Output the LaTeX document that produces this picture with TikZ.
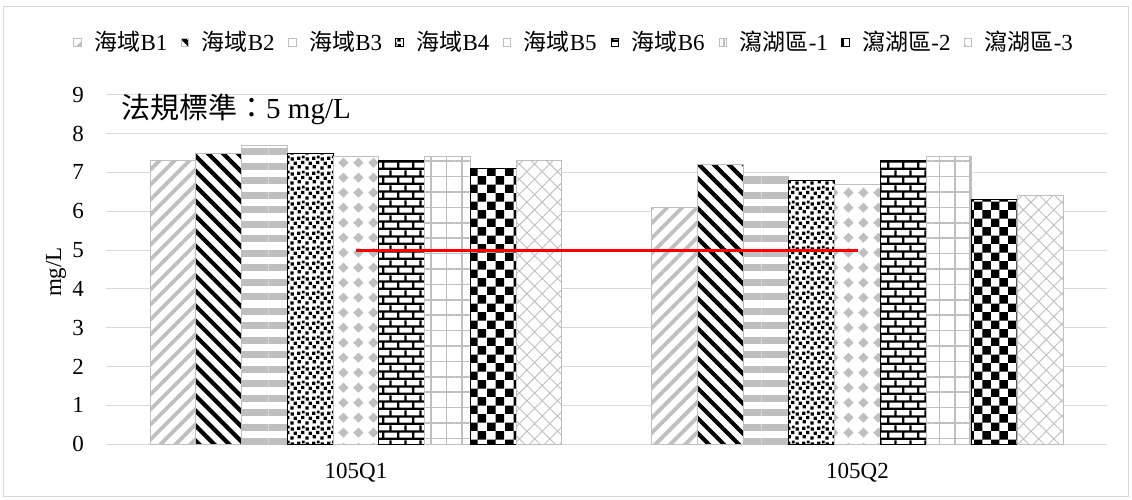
\documentclass[tikz,border=0pt]{standalone}
\usepackage{fontspec}
\setmainfont{Liberation Serif}
\newfontfamily\cjk{Noto Sans CJK TC}
\usetikzlibrary{patterns.meta}
\definecolor{gridc}{HTML}{D9D9D9}
\definecolor{pg}{HTML}{BFBFBF}
\definecolor{redl}{HTML}{FF0000}

\pgfdeclarepattern{name=confettiP, type=uncolored,
  bottom left={\pgfpoint{0pt}{0pt}}, top right={\pgfpoint{15.3pt}{15.3pt}},
  tile size={\pgfpoint{15.3pt}{15.3pt}},
  code={
    \pgfpathrectangle{\pgfpoint{0.3pt}{0.3pt}}{\pgfpoint{3.4pt}{3.4pt}}
    \pgfpathrectangle{\pgfpoint{7.8pt}{1.6pt}}{\pgfpoint{3.4pt}{3.4pt}}
    \pgfpathrectangle{\pgfpoint{3.8pt}{5.4pt}}{\pgfpoint{3.4pt}{3.4pt}}
    \pgfpathrectangle{\pgfpoint{11.4pt}{6.2pt}}{\pgfpoint{3.4pt}{3.4pt}}
    \pgfpathrectangle{\pgfpoint{0.6pt}{9.8pt}}{\pgfpoint{3.4pt}{3.4pt}}
    \pgfpathrectangle{\pgfpoint{7.4pt}{10.6pt}}{\pgfpoint{3.4pt}{3.4pt}}
    \pgfpathrectangle{\pgfpoint{12.2pt}{12.2pt}}{\pgfpoint{2.8pt}{2.8pt}}
    \pgfusepath{fill}}}
\pgfdeclarepattern{name=diamondP, type=uncolored,
  bottom left={\pgfpoint{0pt}{0pt}}, top right={\pgfpoint{15.3pt}{15.3pt}},
  tile size={\pgfpoint{15.3pt}{15.3pt}},
  code={
    \pgfpathmoveto{\pgfpoint{7.65pt}{2.4pt}}
    \pgfpathlineto{\pgfpoint{12.9pt}{7.65pt}}
    \pgfpathlineto{\pgfpoint{7.65pt}{12.9pt}}
    \pgfpathlineto{\pgfpoint{2.4pt}{7.65pt}}
    \pgfpathclose
    \pgfusepath{fill}}}
\pgfdeclarepattern{name=brickP, type=uncolored,
  bottom left={\pgfpoint{0pt}{0pt}}, top right={\pgfpoint{15.3pt}{15.3pt}},
  tile size={\pgfpoint{15.3pt}{15.3pt}},
  code={
    \pgfpathrectangle{\pgfpoint{0pt}{0pt}}{\pgfpoint{15.3pt}{2.4pt}}
    \pgfpathrectangle{\pgfpoint{0pt}{7.65pt}}{\pgfpoint{15.3pt}{2.4pt}}
    \pgfpathrectangle{\pgfpoint{0pt}{2.4pt}}{\pgfpoint{2.4pt}{5.25pt}}
    \pgfpathrectangle{\pgfpoint{7.65pt}{10.05pt}}{\pgfpoint{2.4pt}{5.25pt}}
    \pgfusepath{fill}}}
\pgfdeclarepattern{name=checkP, type=uncolored,
  bottom left={\pgfpoint{0pt}{0pt}}, top right={\pgfpoint{17.4pt}{17.4pt}},
  tile size={\pgfpoint{17.4pt}{17.4pt}},
  code={
    \pgfpathrectangle{\pgfpoint{0pt}{0pt}}{\pgfpoint{8.7pt}{8.7pt}}
    \pgfpathrectangle{\pgfpoint{8.7pt}{8.7pt}}{\pgfpoint{8.7pt}{8.7pt}}
    \pgfusepath{fill}}}

\tikzset{
  bx/.style={preaction={fill=white}, line width=1pt},
  sB1/.style={bx, draw=pg, pattern={Lines[angle=45,distance=10.6pt,line width=3.8pt]}, pattern color=pg},
  sB2/.style={bx, draw=pg, pattern={Lines[angle=-45,distance=10.6pt,line width=4.2pt]}, pattern color=black},
  sB3/.style={bx, draw=pg, pattern={Lines[angle=0,distance=14.5pt,line width=7pt]}, pattern color=pg},
  sB4/.style={bx, draw=black, pattern=confettiP, pattern color=black},
  sB5/.style={bx, draw=pg, pattern=diamondP, pattern color=pg},
  sB6/.style={bx, draw=black, pattern=brickP, pattern color=black},
  sL1/.style={bx, draw=pg, pattern={Hatch[angle=0,distance=15.4pt,line width=1.6pt]}, pattern color=pg},
  sL2/.style={bx, draw=black, pattern=checkP, pattern color=black},
  sL3/.style={bx, draw=pg, pattern={Hatch[angle=45,distance=10.8pt,line width=0.9pt]}, pattern color=pg},
  grid line/.style={draw=gridc, line width=1pt},
  tick label/.style={font=\fontsize{23}{27}\selectfont, inner sep=0pt},
  legend text/.style={font=\fontsize{23}{27}\selectfont, inner sep=0pt, anchor=base west},
}
% bar: style, left x, value
\newcommand\mybar[3]{\path[#1] (#2,444) rectangle ++(45.75,{-38.8*#3});}
% legend: style, x, name, text
\newcommand\mylegend[4]{%
  \path[#1] (#2,39) rectangle ++(7.5,8);
  \node[legend text] (#3) at ({#2+20.6},51) {#4};}

\begin{document}
\begin{tikzpicture}[x=1pt,y=-1pt]
  \useasboundingbox (0,0) rectangle (1132,500);
  \draw[draw=gridc, line width=1pt] (3.5,6.5) rectangle (1128.5,496.5);

  % grid lines and y tick labels
  \foreach \v in {0,...,9}{
    \draw[grid line] (105.5,{444-38.8*\v}) -- (1106.5,{444-38.8*\v});
    \node[tick label, anchor=east] (y\v) at (84,{444-38.8*\v}) {\v};
  }
  \node[tick label, rotate=90] (ytitle) at (56,272) {mg/L};

  % group 1 (105Q1)
  \mybar{sB1}{150}{7.3}
  \mybar{sB2}{195.75}{7.5}
  \mybar{sB3}{241.5}{7.7}
  \mybar{sB4}{287.25}{7.5}
  \mybar{sB5}{333}{7.4}
  \mybar{sB6}{378.75}{7.3}
  \mybar{sL1}{424.5}{7.4}
  \mybar{sL2}{470.25}{7.1}
  \mybar{sL3}{516}{7.3}
  % group 2 (105Q2)
  \mybar{sB1}{651.5}{6.1}
  \mybar{sB2}{697.25}{7.2}
  \mybar{sB3}{743}{6.9}
  \mybar{sB4}{788.75}{6.8}
  \mybar{sB5}{834.5}{6.7}
  \mybar{sB6}{880.25}{7.3}
  \mybar{sL1}{926}{7.4}
  \mybar{sL2}{971.75}{6.3}
  \mybar{sL3}{1017.5}{6.4}

  % standard line
  \coordinate (s1) at (356,250);
  \coordinate (s2) at (857.5,250);
  \draw[redl, line width=3pt] (s1) -- (s2);

  % category labels
  \node[tick label] (c1) at (356,473) {105Q1};
  \node[tick label] (c2) at (857.5,473) {105Q2};

  % standard text
  \node[font=\fontsize{29}{34}\selectfont, inner sep=0pt, anchor=base west] (std) at (121,119) {{\cjk 法規標準：}5 mg/L};

  % legend
  \mylegend{sB1}{73.8}{l1}{{\cjk 海域}B1}
  \mylegend{sB2}{181}{l2}{{\cjk 海域}B2}
  \mylegend{sB3}{288.5}{l3}{{\cjk 海域}B3}
  \mylegend{sB4}{395.8}{l4}{{\cjk 海域}B4}
  \mylegend{sB5}{503}{l5}{{\cjk 海域}B5}
  \mylegend{sB6}{611}{l6}{{\cjk 海域}B6}
  \mylegend{sL1}{719}{l7}{{\cjk 瀉湖區}-1}
  \mylegend{sL2}{841.6}{l8}{{\cjk 瀉湖區}-2}
  \mylegend{sL3}{964}{l9}{{\cjk 瀉湖區}-3}
\end{tikzpicture}
\end{document}
